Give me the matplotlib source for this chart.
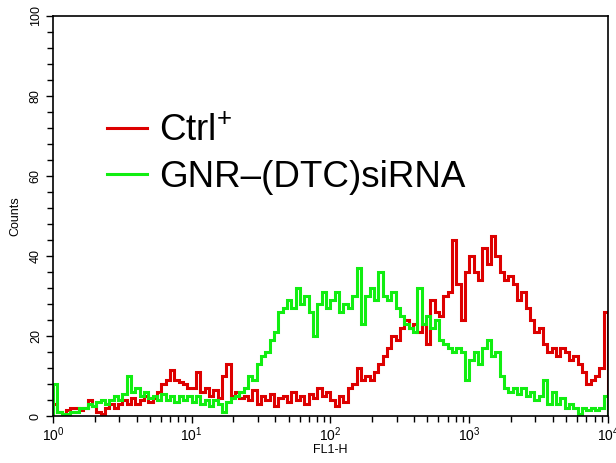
import numpy as np
import matplotlib
matplotlib.use("Agg")
import matplotlib.pyplot as plt
from matplotlib.ticker import LogLocator, MultipleLocator

plt.rcParams['font.family'] = ['Liberation Sans', 'DejaVu Sans']
plt.rcParams['mathtext.fontset'] = 'custom'
plt.rcParams['mathtext.rm'] = 'Liberation Sans'
plt.rcParams['mathtext.it'] = 'Liberation Sans:italic'
plt.rcParams['mathtext.bf'] = 'Liberation Sans:bold'

# FL1-H histogram, 128 log channels from 10^0 to 10^4 (32 per decade)
ctrl_counts = [
    3, 1, 0.5, 1.5, 2, 2, 1.5, 2, 4, 2.5, 1, 0.5, 2, 3, 2, 3,
    4, 3, 4.5, 3, 4, 5, 3.5, 4.5, 6, 8, 9, 11.5, 9, 8.5, 8, 7,
    7, 11, 6, 7, 5, 6.5, 4.5, 10, 13, 5, 6, 4.5, 5, 4, 6.5, 3,
    5, 4, 5.5, 2.5, 4.5, 5, 3.5, 6, 4, 5, 3, 5.5, 4.5, 7, 5, 6,
    4, 2.5, 5, 3.5, 7, 8, 12, 9, 10, 9, 11, 13, 15, 17, 20, 19,
    22, 24, 22, 23, 21, 23, 18, 29, 26, 25, 30, 31, 44, 33, 24, 36,
    40, 36, 34, 42, 38, 45, 40, 36, 34, 35, 33, 29, 31, 27, 24, 21,
    22, 18, 16, 17, 15, 17, 16, 14, 15, 13, 11, 8, 9, 10, 12, 26,
]
gnr_counts = [
    8, 1, 0.5, 0.5, 1, 1, 2, 2, 3, 2.5, 3.5, 4, 3, 4, 5, 4,
    5.5, 10, 6, 7, 5, 6, 4.5, 5, 4, 5.5, 4, 5, 3.5, 5, 4, 5,
    3.5, 5, 3, 4, 2.5, 4, 3, 1, 3.5, 4.5, 5, 6, 7, 10, 9, 13,
    15, 16, 19, 21, 26, 27, 29, 27, 32, 28, 30, 26, 20, 28, 31, 27,
    29, 31, 26, 28, 27, 30, 37, 23, 30, 32, 29, 36, 30, 29, 31, 27,
    25, 23, 22, 21, 32, 23, 25, 22, 24, 19, 18, 17, 16, 17, 16, 9,
    14, 16, 13, 17, 19, 15, 16, 10, 7, 6, 7, 5.5, 7, 5, 6, 4,
    5, 9, 3, 6, 3, 4.5, 2, 3, 2, 0.5, 2, 1.5, 2, 1.5, 2, 5,
]
labels = ['Ctrl$^{+}$', 'GNR\u2013(DTC)siRNA']
colors = ['#dd0000', '#11ee11']

edges = np.logspace(0, 4, len(ctrl_counts) + 1)

fig = plt.figure(figsize=(6.16, 4.63), dpi=100)
ax = fig.add_axes([0.086, 0.1015, 0.901, 0.864])

ax.stairs(ctrl_counts, edges, color=colors[0], linewidth=2.2, label=labels[0])
ax.stairs(gnr_counts, edges, color=colors[1], linewidth=2.2, label=labels[1])

ax.set_xscale('log')
ax.set_xlim(1, 1e4)
ax.set_ylim(0, 100)
ax.xaxis.set_major_locator(LogLocator(base=10, numticks=10))
ax.xaxis.set_minor_locator(LogLocator(base=10, subs=np.arange(2, 10), numticks=20))
ax.yaxis.set_major_locator(MultipleLocator(20))
ax.yaxis.set_minor_locator(MultipleLocator(4))
ax.tick_params(which='both', direction='out', width=1.0, color='black')
ax.tick_params(which='major', length=5)
ax.tick_params(which='minor', length=4)
ax.tick_params(axis='x', labelsize=10, pad=2)
ax.tick_params(axis='y', labelsize=9, pad=3)
for t in ax.get_yticklabels():
    t.set_rotation(90)
    t.set_va('center')

for s in ax.spines.values():
    s.set_linewidth(1.2)

ax.set_xlabel('FL1-H', fontsize=9, labelpad=0)
ax.set_ylabel('Counts', fontsize=9, labelpad=6)

ax.legend(loc='upper left', bbox_to_anchor=(0.097, 0.755), frameon=False,
          fontsize=26.5, handlelength=1.1, handletextpad=0.33,
          labelspacing=0.3, borderpad=0, borderaxespad=0)

plt.savefig('out.png', dpi=100)
